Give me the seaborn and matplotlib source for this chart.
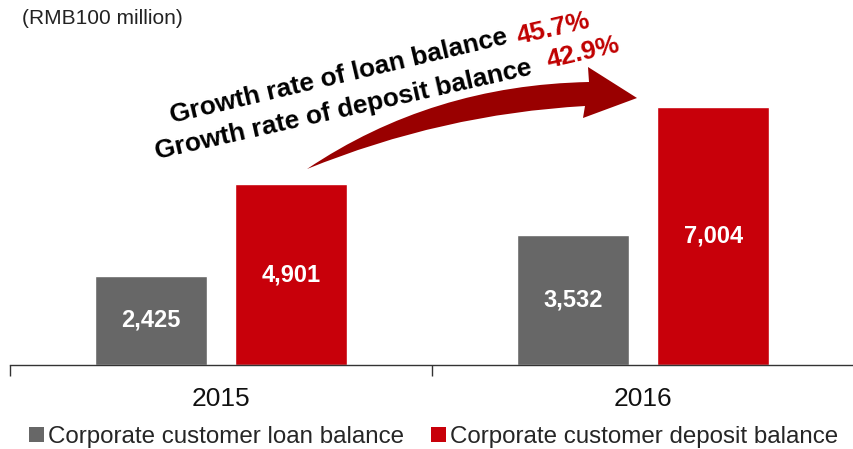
import numpy as np
import pandas as pd
import seaborn as sns
import matplotlib
matplotlib.use("Agg")
import matplotlib.pyplot as plt
from matplotlib.path import Path
from matplotlib.patches import PathPatch, Patch

# Data (RMB100 million)
years = ["2015", "2016"]
series = ["Corporate customer loan balance", "Corporate customer deposit balance"]
loan_balance = [2425, 3532]
deposit_balance = [4901, 7004]
growth_labels = ["Growth rate of loan balance", "Growth rate of deposit balance"]
growth_rates = ["45.7%", "42.9%"]

GREY = "#676767"
RED = "#C8000A"
DARK_RED = "#990000"
PCT_RED = "#C00000"

sns.set_theme(style="white")
plt.rcParams["font.family"] = ["Liberation Sans", "DejaVu Sans"]

df = pd.DataFrame({
    "year": years * 2,
    "series": [series[0]] * 2 + [series[1]] * 2,
    "value": loan_balance + deposit_balance,
})

W, H = 854, 449
fig = plt.figure(figsize=(W / 100, H / 100), dpi=100)
ax = fig.add_axes([10 / W, 84 / H, 844 / W, 365 / H])

sns.barplot(data=df, x="year", y="value", hue="series", hue_order=series,
            order=years, palette=[GREY, RED], width=0.666, gap=0.2,
            saturation=1, legend=False, ax=ax)

for cont in ax.containers:
    ax.bar_label(cont, fmt="{:,.0f}", label_type="center", color="white",
                 fontsize=17, fontweight="bold")

ax.set_xlim(-0.5, 1.5)
ax.set_ylim(0, 9908)
ax.set_xlabel("")
ax.set_ylabel("")
ax.set_yticks([])
for s in ["left", "right", "top"]:
    ax.spines[s].set_visible(False)
ax.spines["bottom"].set_color("#333333")
ax.spines["bottom"].set_linewidth(1.0)
ax.tick_params(axis="x", which="major", bottom=False, length=0, pad=16,
               labelsize=19, labelcolor="#111111")
ax.set_xticks([-0.5, 0.5, 1.5], minor=True)
ax.tick_params(axis="x", which="minor", bottom=True, length=8, width=1.0,
               color="#333333", direction="out")

# Unit note
fig.text(22 / W, 1 - 18 / H, "(RMB100 million)", fontsize=15, color="#222222",
         va="center", ha="left")

# Curved growth arrow (pixel outline, top-left origin)
def px(x, y):
    return (x / W, 1 - y / H)

verts = [px(307, 169),
         px(432, 85), px(589, 82),      # upper edge of shaft
         px(588, 67), px(637, 98), px(583, 118),   # arrow head
         px(585, 106),
         px(442, 114), px(307, 169),    # lower edge of shaft
         px(307, 169)]
codes = [Path.MOVETO,
         Path.CURVE3, Path.CURVE3,
         Path.LINETO, Path.LINETO, Path.LINETO,
         Path.LINETO,
         Path.CURVE3, Path.CURVE3,
         Path.CLOSEPOLY]
fig.patches.append(PathPatch(Path(verts, codes), transform=fig.transFigure,
                             facecolor=DARK_RED, edgecolor="none", zorder=5))

# Rotated growth labels
text_kw = dict(fontsize=18.9, fontweight="bold", ha="left", va="baseline",
               rotation_mode="anchor")
fig.text(*px(172, 123), growth_labels[0], rotation=13.3, color="black", **text_kw)
fig.text(*px(157, 159), growth_labels[1], rotation=12.7, color="black", **text_kw)
fig.text(*px(519, 44), growth_rates[0], rotation=13, color=PCT_RED, **text_kw)
fig.text(*px(549, 68), growth_rates[1], rotation=13, color=PCT_RED, **text_kw)

# Legend
handles = [Patch(facecolor=GREY, edgecolor="none"),
           Patch(facecolor=RED, edgecolor="none")]
fig.legend(handles, series, loc="center", bbox_to_anchor=(0.508, 1 - 437 / H),
           ncol=2, frameon=False, fontsize=17.4, handlelength=0.6,
           handleheight=0.6, handletextpad=0.2, columnspacing=1.1,
           borderaxespad=0, borderpad=0)

fig.savefig("out.png", dpi=100)
